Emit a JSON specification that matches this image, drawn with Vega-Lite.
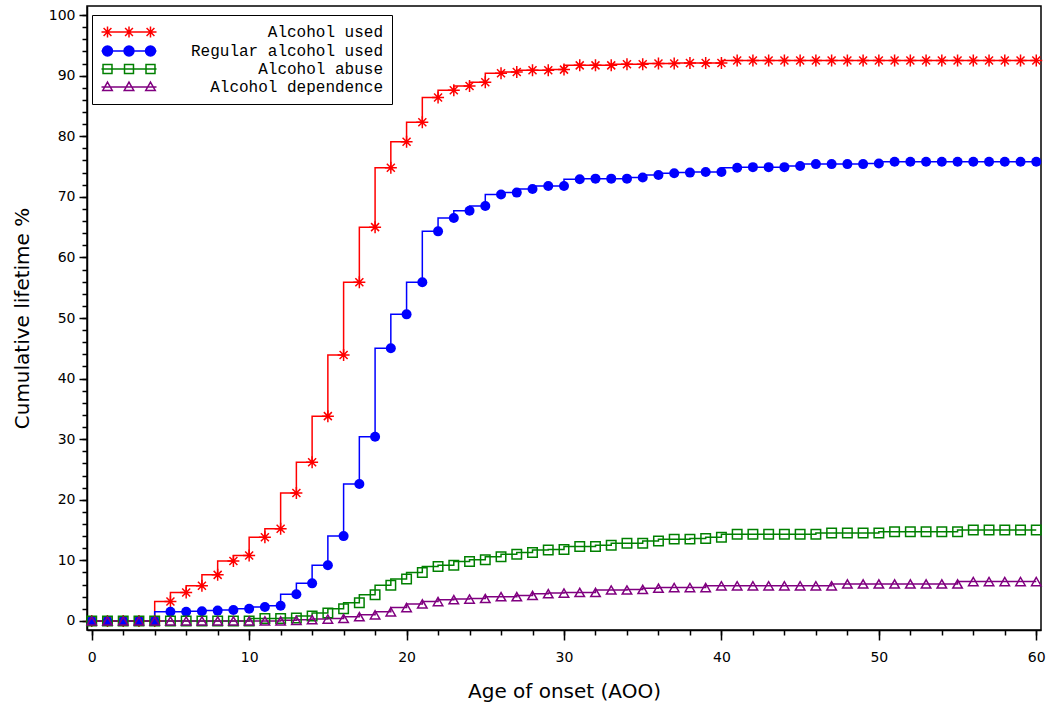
{
  "$schema": "https://vega.github.io/schema/vega-lite/v6.json",
  "width": 954,
  "height": 624,
  "autosize": "none",
  "padding": {"left": 87, "top": 6, "right": 9, "bottom": 86},
  "background": "white",
  "data": {"values": [
    {"age":0,"Alcohol used":0,"Regular alcohol used":0,"Alcohol abuse":0,"Alcohol dependence":0},
    {"age":1,"Alcohol used":0,"Regular alcohol used":0,"Alcohol abuse":0,"Alcohol dependence":0},
    {"age":2,"Alcohol used":0,"Regular alcohol used":0,"Alcohol abuse":0,"Alcohol dependence":0},
    {"age":3,"Alcohol used":0,"Regular alcohol used":0,"Alcohol abuse":0,"Alcohol dependence":0},
    {"age":4,"Alcohol used":0,"Regular alcohol used":0,"Alcohol abuse":0,"Alcohol dependence":0},
    {"age":5,"Alcohol used":3.2,"Regular alcohol used":1.5,"Alcohol abuse":0,"Alcohol dependence":0},
    {"age":6,"Alcohol used":4.7,"Regular alcohol used":1.5,"Alcohol abuse":0,"Alcohol dependence":0},
    {"age":7,"Alcohol used":5.8,"Regular alcohol used":1.6,"Alcohol abuse":0,"Alcohol dependence":0},
    {"age":8,"Alcohol used":7.6,"Regular alcohol used":1.7,"Alcohol abuse":0,"Alcohol dependence":0},
    {"age":9,"Alcohol used":9.9,"Regular alcohol used":1.8,"Alcohol abuse":0,"Alcohol dependence":0},
    {"age":10,"Alcohol used":10.8,"Regular alcohol used":2.0,"Alcohol abuse":0,"Alcohol dependence":0},
    {"age":11,"Alcohol used":13.8,"Regular alcohol used":2.3,"Alcohol abuse":0.4,"Alcohol dependence":0},
    {"age":12,"Alcohol used":15.2,"Regular alcohol used":2.5,"Alcohol abuse":0.4,"Alcohol dependence":0},
    {"age":13,"Alcohol used":21.1,"Regular alcohol used":4.4,"Alcohol abuse":0.5,"Alcohol dependence":0.1},
    {"age":14,"Alcohol used":26.2,"Regular alcohol used":6.2,"Alcohol abuse":0.8,"Alcohol dependence":0.2},
    {"age":15,"Alcohol used":33.8,"Regular alcohol used":9.2,"Alcohol abuse":1.3,"Alcohol dependence":0.3},
    {"age":16,"Alcohol used":43.9,"Regular alcohol used":14.0,"Alcohol abuse":2.0,"Alcohol dependence":0.4},
    {"age":17,"Alcohol used":55.9,"Regular alcohol used":22.6,"Alcohol abuse":3.0,"Alcohol dependence":0.7},
    {"age":18,"Alcohol used":65.0,"Regular alcohol used":30.4,"Alcohol abuse":4.3,"Alcohol dependence":1.0},
    {"age":19,"Alcohol used":74.8,"Regular alcohol used":45.0,"Alcohol abuse":5.9,"Alcohol dependence":1.5},
    {"age":20,"Alcohol used":79.1,"Regular alcohol used":50.6,"Alcohol abuse":6.9,"Alcohol dependence":2.2},
    {"age":21,"Alcohol used":82.3,"Regular alcohol used":55.9,"Alcohol abuse":8.0,"Alcohol dependence":2.8},
    {"age":22,"Alcohol used":86.4,"Regular alcohol used":64.3,"Alcohol abuse":9.0,"Alcohol dependence":3.2},
    {"age":23,"Alcohol used":87.6,"Regular alcohol used":66.5,"Alcohol abuse":9.2,"Alcohol dependence":3.5},
    {"age":24,"Alcohol used":88.3,"Regular alcohol used":67.7,"Alcohol abuse":9.8,"Alcohol dependence":3.6},
    {"age":25,"Alcohol used":88.9,"Regular alcohol used":68.5,"Alcohol abuse":10.1,"Alcohol dependence":3.7},
    {"age":26,"Alcohol used":90.4,"Regular alcohol used":70.4,"Alcohol abuse":10.6,"Alcohol dependence":4.0},
    {"age":27,"Alcohol used":90.6,"Regular alcohol used":70.7,"Alcohol abuse":11.0,"Alcohol dependence":4.0},
    {"age":28,"Alcohol used":90.9,"Regular alcohol used":71.3,"Alcohol abuse":11.3,"Alcohol dependence":4.2},
    {"age":29,"Alcohol used":90.9,"Regular alcohol used":71.8,"Alcohol abuse":11.7,"Alcohol dependence":4.5},
    {"age":30,"Alcohol used":91.0,"Regular alcohol used":71.8,"Alcohol abuse":11.8,"Alcohol dependence":4.6},
    {"age":31,"Alcohol used":91.7,"Regular alcohol used":72.9,"Alcohol abuse":12.3,"Alcohol dependence":4.7},
    {"age":32,"Alcohol used":91.7,"Regular alcohol used":73.0,"Alcohol abuse":12.3,"Alcohol dependence":4.7},
    {"age":33,"Alcohol used":91.7,"Regular alcohol used":73.0,"Alcohol abuse":12.5,"Alcohol dependence":5.1},
    {"age":34,"Alcohol used":91.9,"Regular alcohol used":73.0,"Alcohol abuse":12.8,"Alcohol dependence":5.1},
    {"age":35,"Alcohol used":91.9,"Regular alcohol used":73.2,"Alcohol abuse":12.8,"Alcohol dependence":5.2},
    {"age":36,"Alcohol used":92.0,"Regular alcohol used":73.6,"Alcohol abuse":13.2,"Alcohol dependence":5.4},
    {"age":37,"Alcohol used":92.0,"Regular alcohol used":73.9,"Alcohol abuse":13.5,"Alcohol dependence":5.5},
    {"age":38,"Alcohol used":92.1,"Regular alcohol used":74.0,"Alcohol abuse":13.5,"Alcohol dependence":5.5},
    {"age":39,"Alcohol used":92.1,"Regular alcohol used":74.1,"Alcohol abuse":13.6,"Alcohol dependence":5.5},
    {"age":40,"Alcohol used":92.1,"Regular alcohol used":74.1,"Alcohol abuse":13.8,"Alcohol dependence":5.8},
    {"age":41,"Alcohol used":92.5,"Regular alcohol used":74.8,"Alcohol abuse":14.3,"Alcohol dependence":5.8},
    {"age":42,"Alcohol used":92.5,"Regular alcohol used":74.9,"Alcohol abuse":14.3,"Alcohol dependence":5.8},
    {"age":43,"Alcohol used":92.5,"Regular alcohol used":74.9,"Alcohol abuse":14.3,"Alcohol dependence":5.8},
    {"age":44,"Alcohol used":92.5,"Regular alcohol used":74.9,"Alcohol abuse":14.3,"Alcohol dependence":5.8},
    {"age":45,"Alcohol used":92.5,"Regular alcohol used":75.1,"Alcohol abuse":14.3,"Alcohol dependence":5.8},
    {"age":46,"Alcohol used":92.5,"Regular alcohol used":75.4,"Alcohol abuse":14.3,"Alcohol dependence":5.8},
    {"age":47,"Alcohol used":92.5,"Regular alcohol used":75.4,"Alcohol abuse":14.5,"Alcohol dependence":5.8},
    {"age":48,"Alcohol used":92.5,"Regular alcohol used":75.4,"Alcohol abuse":14.5,"Alcohol dependence":6.1},
    {"age":49,"Alcohol used":92.5,"Regular alcohol used":75.4,"Alcohol abuse":14.5,"Alcohol dependence":6.1},
    {"age":50,"Alcohol used":92.5,"Regular alcohol used":75.5,"Alcohol abuse":14.5,"Alcohol dependence":6.1},
    {"age":51,"Alcohol used":92.5,"Regular alcohol used":75.8,"Alcohol abuse":14.7,"Alcohol dependence":6.1},
    {"age":52,"Alcohol used":92.5,"Regular alcohol used":75.8,"Alcohol abuse":14.7,"Alcohol dependence":6.1},
    {"age":53,"Alcohol used":92.5,"Regular alcohol used":75.8,"Alcohol abuse":14.7,"Alcohol dependence":6.1},
    {"age":54,"Alcohol used":92.5,"Regular alcohol used":75.8,"Alcohol abuse":14.7,"Alcohol dependence":6.1},
    {"age":55,"Alcohol used":92.5,"Regular alcohol used":75.8,"Alcohol abuse":14.7,"Alcohol dependence":6.1},
    {"age":56,"Alcohol used":92.5,"Regular alcohol used":75.8,"Alcohol abuse":15.0,"Alcohol dependence":6.5},
    {"age":57,"Alcohol used":92.5,"Regular alcohol used":75.8,"Alcohol abuse":15.0,"Alcohol dependence":6.5},
    {"age":58,"Alcohol used":92.5,"Regular alcohol used":75.8,"Alcohol abuse":15.0,"Alcohol dependence":6.5},
    {"age":59,"Alcohol used":92.5,"Regular alcohol used":75.8,"Alcohol abuse":15.0,"Alcohol dependence":6.5},
    {"age":60,"Alcohol used":92.5,"Regular alcohol used":75.8,"Alcohol abuse":15.0,"Alcohol dependence":6.5}
  ]},
  "transform": [
    {"fold": ["Alcohol used", "Regular alcohol used", "Alcohol abuse", "Alcohol dependence"], "as": ["series", "pct"]}
  ],
  "resolve": {"axis": {"x": "independent", "y": "independent"}},
  "layer": [
    {
      "mark": {"type": "line", "interpolate": "step-before", "strokeWidth": 1.5},
      "encoding": {
        "x": {"field": "age", "type": "quantitative",
              "scale": {"domain": [-0.3, 60.3], "nice": false, "zero": false},
              "axis": {"orient": "bottom", "values": [0,10,20,30,40,50,60], "tickSize": 10, "labelPadding": 10, "title": "Age of onset (AOO)", "titlePadding": 17}},
        "y": {"field": "pct", "type": "quantitative",
              "scale": {"domain": [-1.5, 101.5], "nice": false, "zero": false},
              "axis": {"orient": "left", "values": [0,10,20,30,40,50,60,70,80,90,100], "tickSize": 8, "labelPadding": 4, "title": "Cumulative lifetime %", "titlePadding": 16}},
        "color": {"field": "series", "type": "nominal",
          "scale": {"domain": ["Alcohol used", "Regular alcohol used", "Alcohol abuse", "Alcohol dependence"],
                    "range": ["#FF0000", "#0000FF", "#008000", "#800080"]},
          "legend": {
            "orient": "none", "legendX": 5, "legendY": 9,
            "title": null,
            "padding": 9,
            "strokeColor": "black",
            "fillColor": "white",
            "symbolSize": 196,
            "symbolOffset": 20,
            "symbolStrokeWidth": 1.5,
            "symbolOpacity": 1,
            "labelFont": "Liberation Mono",
            "labelFontSize": 16,
            "labelColor": "black",
            "labelAlign": "right",
            "labelOffset": 246,
            "labelLimit": 400,
            "rowPadding": 2
          }
        }
      }
    },
    {
      "mark": {"type": "point", "opacity": 0, "strokeWidth": 1.5, "filled": false},
      "encoding": {
        "x": {"field": "age", "type": "quantitative",
              "axis": {"orient": "bottom", "values": [0,2,4,6,8,10,12,14,16,18,20,22,24,26,28,30,32,34,36,38,40,42,44,46,48,50,52,54,56,58,60], "tickSize": 5, "labels": false, "domain": false, "title": null}},
        "y": {"field": "pct", "type": "quantitative",
              "axis": {"orient": "left", "values": [0,2,4,6,8,10,12,14,16,18,20,22,24,26,28,30,32,34,36,38,40,42,44,46,48,50,52,54,56,58,60,62,64,66,68,70,72,74,76,78,80,82,84,86,88,90,92,94,96,98,100], "tickSize": 5, "labels": false, "domain": false, "title": null}},
        "color": {"field": "series", "type": "nominal", "legend": null},
        "shape": {"field": "series", "type": "nominal",
          "scale": {"domain": ["Alcohol used", "Regular alcohol used", "Alcohol abuse", "Alcohol dependence"],
                    "range": [
                      "M-3.93,0L3.93,0M-3.07,-0.79L-3.07,0.79M-3.86,0L-2.28,0M-3.63,-0.56L-2.51,0.56M-3.63,0.56L-2.51,-0.56M0,-0.79L0,0.79M-0.79,0L0.79,0M-0.56,-0.56L0.56,0.56M-0.56,0.56L0.56,-0.56M3.07,-0.79L3.07,0.79M2.28,0L3.86,0M2.51,-0.56L3.63,0.56M2.51,0.56L3.63,-0.56",
                      "M-3.93,0L3.93,0M-3.78,0A0.71,0.71,0,1,0,-2.36,0A0.71,0.71,0,1,0,-3.78,0ZM-0.71,0A0.71,0.71,0,1,0,0.71,0A0.71,0.71,0,1,0,-0.71,0ZM2.36,0A0.71,0.71,0,1,0,3.78,0A0.71,0.71,0,1,0,2.36,0Z",
                      "M-3.93,0L3.93,0M-3.71,-0.64h1.28v1.28h-1.28ZM-0.64,-0.64h1.28v1.28h-1.28ZM2.43,-0.64h1.28v1.28h-1.28Z",
                      "M-3.93,0L3.93,0M-3.07,-0.7L-2.39,0.5L-3.75,0.5ZM0,-0.7L0.68,0.5L-0.68,0.5ZM3.07,-0.7L3.75,0.5L2.39,0.5Z"
                    ]},
          "legend": null},
        "fill": {"field": "series", "type": "nominal",
          "scale": {"domain": ["Alcohol used", "Regular alcohol used", "Alcohol abuse", "Alcohol dependence"],
                    "range": ["transparent", "#0000FF", "transparent", "transparent"]},
          "legend": null}
      }
    },
    {
      "transform": [{"filter": "datum.series === 'Alcohol used'"}],
      "mark": {"type": "point", "shape": "M0,-1.2L0,1.2M-1.2,0L1.2,0M-0.8,-0.8L0.8,0.8M-0.8,0.8L0.8,-0.8", "filled": false, "color": "#FF0000", "opacity": 1, "strokeWidth": 1.5, "size": 100},
      "encoding": {
        "x": {"field": "age", "type": "quantitative", "axis": null},
        "y": {"field": "pct", "type": "quantitative", "axis": null}
      }
    },
    {
      "transform": [{"filter": "datum.series === 'Regular alcohol used'"}],
      "mark": {"type": "point", "shape": "circle", "filled": true, "color": "#0000FF", "opacity": 1, "size": 100},
      "encoding": {
        "x": {"field": "age", "type": "quantitative", "axis": null},
        "y": {"field": "pct", "type": "quantitative", "axis": null}
      }
    },
    {
      "transform": [{"filter": "datum.series === 'Alcohol abuse'"}],
      "mark": {"type": "point", "shape": "square", "filled": false, "color": "#008000", "opacity": 1, "strokeWidth": 1.5, "size": 90},
      "encoding": {
        "x": {"field": "age", "type": "quantitative", "axis": null},
        "y": {"field": "pct", "type": "quantitative", "axis": null}
      }
    },
    {
      "transform": [{"filter": "datum.series === 'Alcohol dependence'"}],
      "mark": {"type": "point", "shape": "triangle-up", "filled": false, "color": "#800080", "opacity": 1, "strokeWidth": 1.5, "size": 90},
      "encoding": {
        "x": {"field": "age", "type": "quantitative", "axis": null},
        "y": {"field": "pct", "type": "quantitative", "axis": null}
      }
    }
  ],
  "config": {
    "view": {"stroke": "black", "strokeWidth": 1.5},
    "axis": {
      "grid": false,
      "domainColor": "black", "domainWidth": 1.5,
      "tickColor": "black", "tickWidth": 1.5,
      "labelColor": "black", "labelFont": "DejaVu Sans", "labelFontSize": 14,
      "titleColor": "black", "titleFont": "DejaVu Sans", "titleFontSize": 20, "titleFontWeight": "normal"
    }
  }
}
